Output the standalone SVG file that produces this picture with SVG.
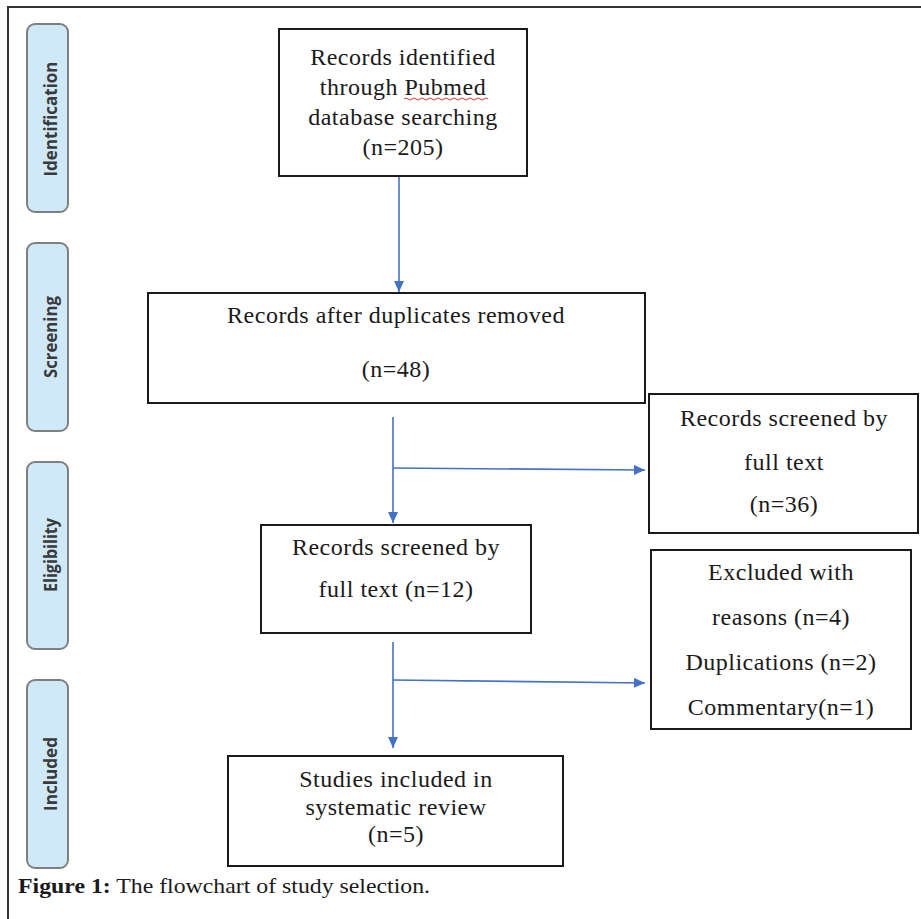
<svg xmlns="http://www.w3.org/2000/svg" width="921" height="919" viewBox="0 0 921 919">
<defs>
<marker id="ah" markerWidth="12" markerHeight="10" refX="11" refY="5" orient="auto" markerUnits="userSpaceOnUse">
<path d="M0,0 L11,5 L0,10 Z" fill="#4472C4"/>
</marker>
<style>
.frame{stroke:#333;stroke-width:2;fill:none}
.pill{fill:#cfe9f9;stroke:#7f7f7f;stroke-width:2}
.ptxt{font-family:"Open Sans","DejaVu Sans",sans-serif;font-weight:bold;font-size:17px;fill:#3a3a3a;text-anchor:middle}
.box{fill:#fff;stroke:#1a1a1a;stroke-width:2}
.t{font-family:"Liberation Serif","Times New Roman",serif;font-size:24px;letter-spacing:0.5px;fill:#1a1a1a;text-anchor:middle}
.conn{stroke:#4472C4;stroke-width:1.6;fill:none}
.cap{font-family:"Liberation Serif","Times New Roman",serif;font-size:21px;fill:#1a1a1a}
</style>
</defs>
<rect width="921" height="919" fill="#fff"/>
<path class="frame" d="M8,919 V7 H921"/>

<g id="stage-identification">
<rect class="pill" x="27" y="24" width="41" height="188" rx="8"/>
<text class="ptxt" transform="translate(57,119) rotate(-90)" textLength="115" lengthAdjust="spacingAndGlyphs">Identification</text>
</g>
<g id="stage-screening">
<rect class="pill" x="27" y="243" width="41" height="188" rx="8"/>
<text class="ptxt" transform="translate(57,337) rotate(-90)" textLength="82" lengthAdjust="spacingAndGlyphs">Screening</text>
</g>
<g id="stage-eligibility">
<rect class="pill" x="27" y="462" width="41" height="187" rx="8"/>
<text class="ptxt" transform="translate(57,555) rotate(-90)" textLength="74" lengthAdjust="spacingAndGlyphs">Eligibility</text>
</g>
<g id="stage-included">
<rect class="pill" x="27" y="680" width="41" height="188" rx="8"/>
<text class="ptxt" transform="translate(57,774) rotate(-90)" textLength="74" lengthAdjust="spacingAndGlyphs">Included</text>
</g>

<g id="identified">
<rect class="box" x="279" y="29" width="248" height="147"/>
<text class="t" x="403" y="65">Records identified</text>
<text class="t" x="403" y="95">through Pubmed</text>
<path d="M404,99 q2,-2 4,0 t4,0 t4,0 t4,0 t4,0 t4,0 t4,0 t4,0 t4,0 t4,0 t4,0 t4,0 t4,0 t4,0 t4,0 t4,0 t4,0 t4,0 t4,0 t4,0 t4,0" fill="none" stroke="#e03030" stroke-width="1"/>
<text class="t" x="403" y="125">database searching</text>
<text class="t" x="403" y="155">(n=205)</text>
</g>

<g id="screened">
<rect class="box" x="148" y="293" width="497" height="110"/>
<text class="t" x="396" y="323">Records after duplicates removed</text>
<text class="t" x="396" y="377">(n=48)</text>
</g>

<g id="fulltext36">
<rect class="box" x="649" y="394" width="269" height="139"/>
<text class="t" x="784" y="426">Records screened by</text>
<text class="t" x="784" y="470">full text</text>
<text class="t" x="784" y="512">(n=36)</text>
</g>

<g id="fulltext12">
<rect class="box" x="261" y="525" width="270" height="108"/>
<text class="t" x="396" y="555">Records screened by</text>
<text class="t" x="396" y="597">full text (n=12)</text>
</g>

<g id="excluded">
<rect class="box" x="651" y="550" width="260" height="179"/>
<text class="t" x="781" y="580">Excluded with</text>
<text class="t" x="781" y="625">reasons (n=4)</text>
<text class="t" x="781" y="670">Duplications (n=2)</text>
<text class="t" x="781" y="715">Commentary(n=1)</text>
</g>

<g id="included">
<rect class="box" x="228" y="756" width="335" height="110"/>
<text class="t" x="396" y="787">Studies included in</text>
<text class="t" x="396" y="815">systematic review</text>
<text class="t" x="396" y="842">(n=5)</text>
</g>

<g id="connectors">
<path class="conn" d="M399,177 V292" marker-end="url(#ah)"/>
<path class="conn" d="M393,417 V523" marker-end="url(#ah)"/>
<path class="conn" d="M393,468 L645,470" marker-end="url(#ah)"/>
<path class="conn" d="M393,642 V748" marker-end="url(#ah)"/>
<path class="conn" d="M393,680 L645,683" marker-end="url(#ah)"/>
</g>

<text class="cap" x="18" y="893" textLength="412" lengthAdjust="spacingAndGlyphs"><tspan font-weight="bold">Figure 1:</tspan> The flowchart of study selection.</text>
</svg>
